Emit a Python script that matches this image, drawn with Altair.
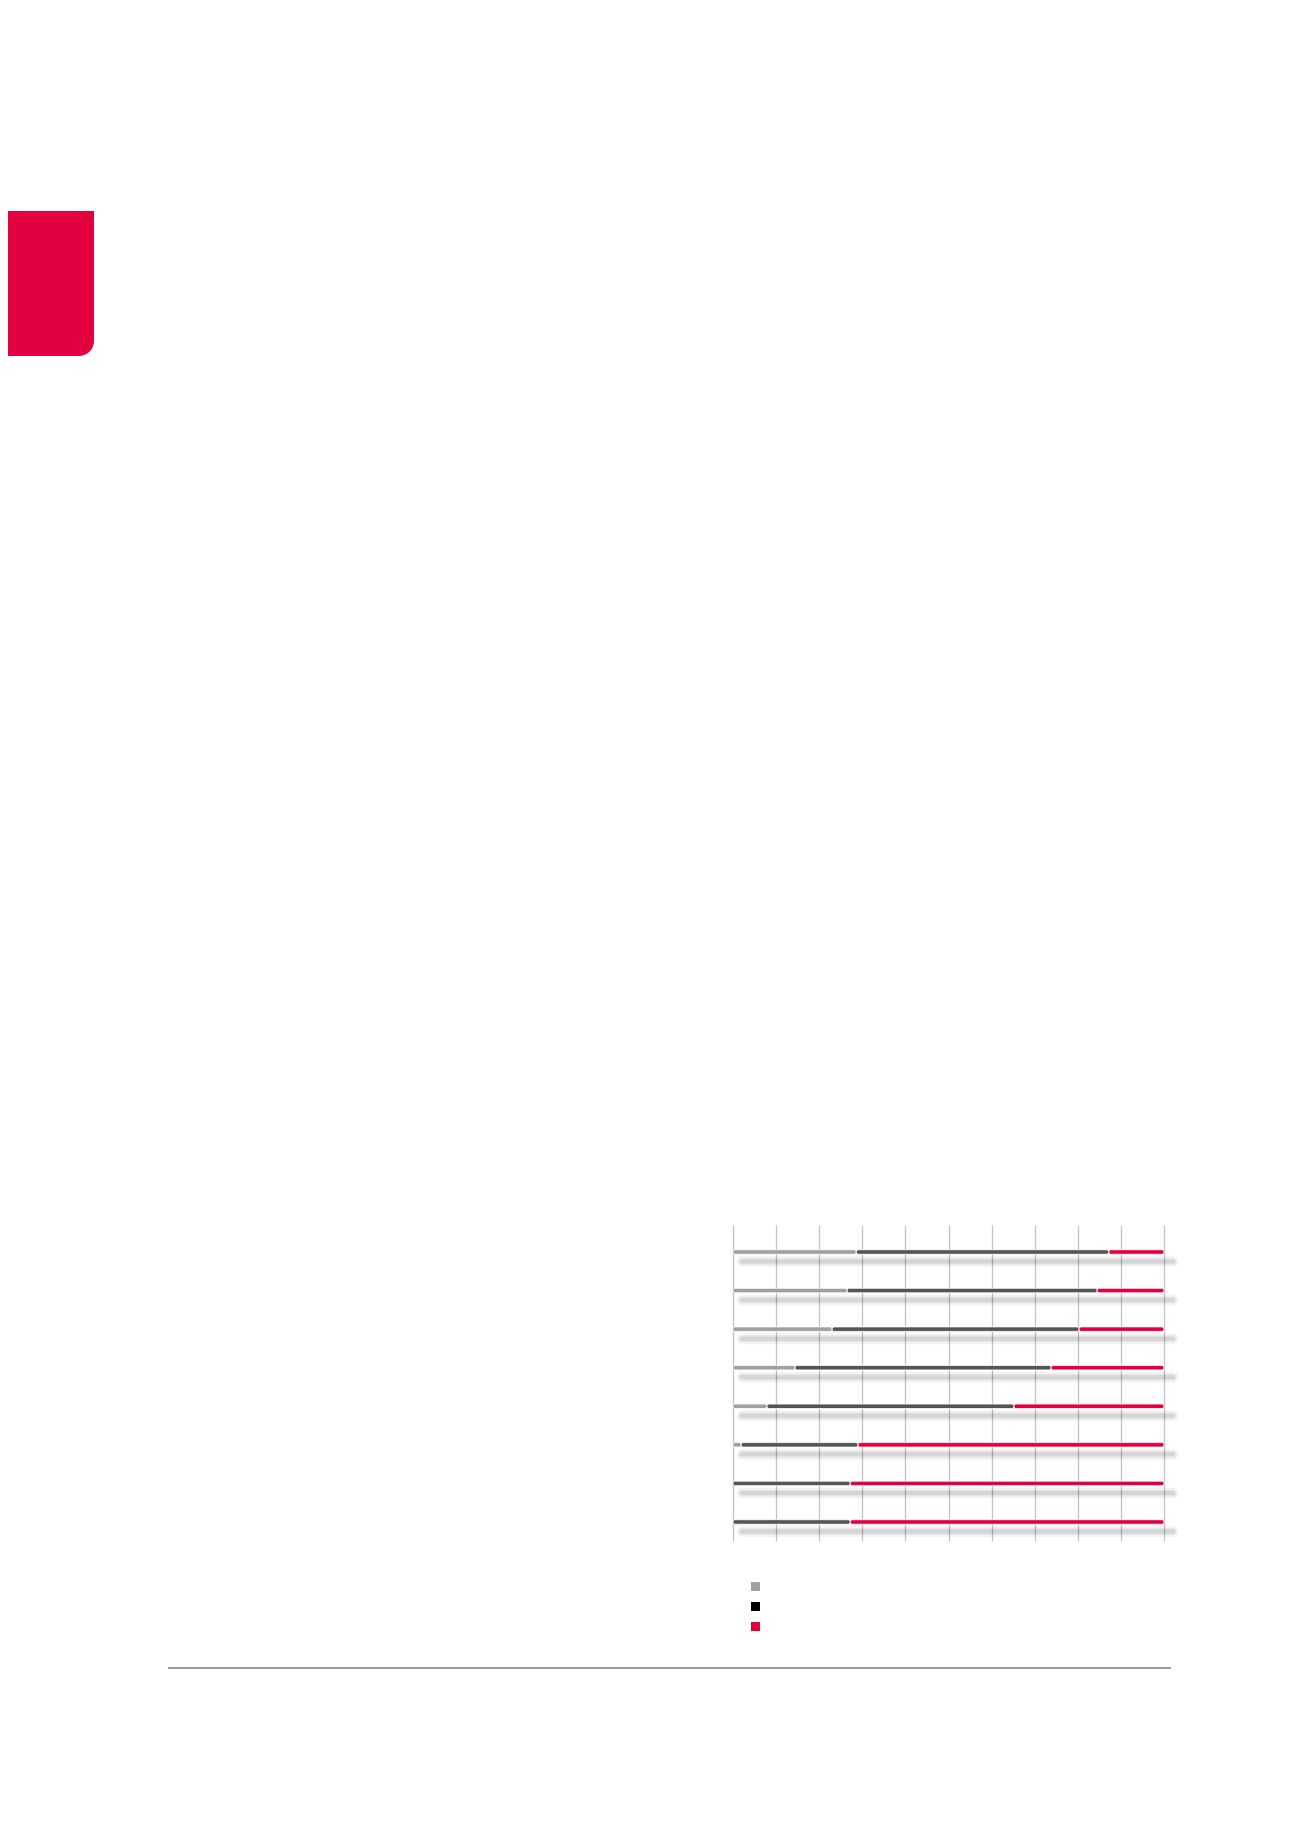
import altair as alt
import pandas as pd

rows = ["1", "2", "3", "4", "5", "6", "7", "8"]
series = ["Kategorie A", "Kategorie B", "Kategorie C"]
gray_vals = [28.6, 26.5, 23.0, 14.4, 7.9, 1.9, 0.0, 0.0]
dark_vals = [58.6, 58.0, 57.3, 59.4, 57.3, 27.1, 27.2, 27.2]
red_vals = [12.8, 15.5, 19.7, 26.2, 34.8, 71.0, 72.8, 72.8]
bar_colors = ["#a0a0a0", "#555555", "#e3003e"]
legend_colors = ["#a0a0a0", "#000000", "#e3003e"]
ticks = [0, 10, 20, 30, 40, 50, 60, 70, 80, 90, 100]

recs = []
for i, r in enumerate(rows):
    start = 0.0
    for s, vals in zip(series, [gray_vals, dark_vals, red_vals]):
        v = vals[i]
        if v > 0:
            recs.append({"row": r, "series": s, "start": start, "end": start + v})
        start += v
df = pd.DataFrame(recs)

shadow_df = pd.DataFrame({
    "row": rows,
    "start": [0.0] * len(rows),
    "end": [g + d + r for g, d, r in zip(gray_vals, dark_vals, red_vals)],
})

xscale = alt.Scale(domain=[0, 100], nice=False, zero=True)
xaxis = alt.Axis(values=ticks, labels=False, ticks=False, domain=False, grid=True,
                 gridColor="#c3c3c3", gridWidth=1.3, title=None)
yenc = alt.Y("row:N", sort=rows, scale=alt.Scale(type="point", padding=0.597), axis=None)

shadow_layers = []
for w, o in [(11, 0.045), (7, 0.055), (4, 0.07)]:
    shadow_layers.append(
        alt.Chart(shadow_df)
        .mark_rule(strokeWidth=w, opacity=o, color="#000000", strokeCap="round",
                   xOffset=9, x2Offset=9, yOffset=13.5)
        .encode(x=alt.X("start:Q", scale=xscale, axis=xaxis), x2="end:Q", y=yenc)
    )

bars = alt.Chart(df).mark_bar(size=4.5, cornerRadius=2.2, stroke="white", strokeWidth=0.8,
                              yOffset=4).encode(
    x=alt.X("start:Q", scale=xscale, axis=xaxis),
    x2="end:Q",
    y=yenc,
    color=alt.Color("series:N", scale=alt.Scale(domain=series, range=bar_colors), legend=None),
)

# legend key squares (label text in the reference is not visible)
legend_layers = []
for i, (s, c) in enumerate(zip(series, legend_colors)):
    legend_layers.append(
        alt.Chart(pd.DataFrame({"series": [s]}))
        .mark_square(size=81, filled=True, opacity=1, strokeWidth=0, color=c)
        .encode(x=alt.value(22.5), y=alt.value(361.5 + 20 * i), tooltip="series:N")
    )

deco_df = pd.DataFrame({"k": [0]})
red_box = alt.Chart(deco_df).mark_rect(color="#e3003e", cornerRadiusBottomRight=15).encode(
    x=alt.value(-745), x2=alt.value(94 - 733), y=alt.value(211 - 1225), y2=alt.value(356 - 1225)
)
bottom_line = alt.Chart(deco_df).mark_rule(color="#9b9b9b", strokeWidth=2).encode(
    x=alt.value(168 - 733), x2=alt.value(1171 - 733), y=alt.value(1668 - 1225)
)

chart = alt.layer(*shadow_layers, bars, *legend_layers, red_box, bottom_line).properties(
    width=431, height=316,
    padding={"left": 725, "top": 1217, "right": 128, "bottom": 290},
    autosize=alt.AutoSizeParams(type="none"),
    background="white",
).configure_view(stroke=None)

chart.save("out.html", embed_options={"renderer": "svg", "actions": False})
